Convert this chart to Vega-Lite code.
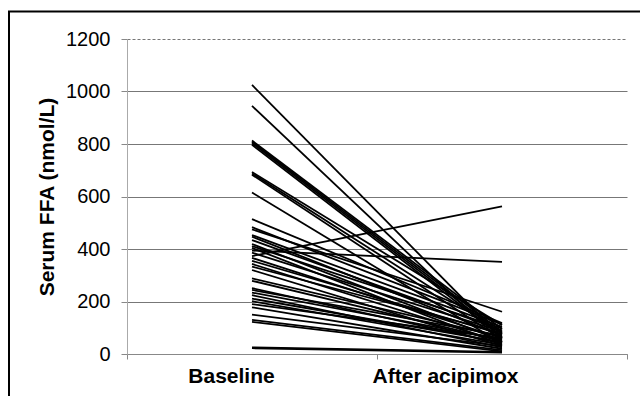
{
  "$schema": "https://vega.github.io/schema/vega-lite/v6.json",
  "width": 500,
  "height": 315,
  "autosize": {"type": "none"},
  "padding": {"left": 127, "top": 39, "right": 13, "bottom": 42},
  "background": "white",
  "config": {"view": {"stroke": null}, "font": "Liberation Sans"},
  "datasets": {
    "ffa": [
      {"subject": 1, "visit": 0, "ffa": 1025}, {"subject": 1, "visit": 1, "ffa": 60},
      {"subject": 2, "visit": 0, "ffa": 945}, {"subject": 2, "visit": 1, "ffa": 45},
      {"subject": 3, "visit": 0, "ffa": 813}, {"subject": 3, "visit": 1, "ffa": 95},
      {"subject": 4, "visit": 0, "ffa": 808}, {"subject": 4, "visit": 1, "ffa": 85},
      {"subject": 5, "visit": 0, "ffa": 803}, {"subject": 5, "visit": 1, "ffa": 75},
      {"subject": 6, "visit": 0, "ffa": 797}, {"subject": 6, "visit": 1, "ffa": 65},
      {"subject": 7, "visit": 0, "ffa": 693}, {"subject": 7, "visit": 1, "ffa": 110},
      {"subject": 8, "visit": 0, "ffa": 688}, {"subject": 8, "visit": 1, "ffa": 80},
      {"subject": 9, "visit": 0, "ffa": 683}, {"subject": 9, "visit": 1, "ffa": 55},
      {"subject": 10, "visit": 0, "ffa": 615}, {"subject": 10, "visit": 1, "ffa": 40},
      {"subject": 11, "visit": 0, "ffa": 514}, {"subject": 11, "visit": 1, "ffa": 118},
      {"subject": 12, "visit": 0, "ffa": 483}, {"subject": 12, "visit": 1, "ffa": 113},
      {"subject": 13, "visit": 0, "ffa": 475}, {"subject": 13, "visit": 1, "ffa": 161},
      {"subject": 14, "visit": 0, "ffa": 453}, {"subject": 14, "visit": 1, "ffa": 103},
      {"subject": 15, "visit": 0, "ffa": 447}, {"subject": 15, "visit": 1, "ffa": 70},
      {"subject": 16, "visit": 0, "ffa": 434}, {"subject": 16, "visit": 1, "ffa": 90},
      {"subject": 17, "visit": 0, "ffa": 419}, {"subject": 17, "visit": 1, "ffa": 50},
      {"subject": 18, "visit": 0, "ffa": 411}, {"subject": 18, "visit": 1, "ffa": 98},
      {"subject": 19, "visit": 0, "ffa": 404}, {"subject": 19, "visit": 1, "ffa": 35},
      {"subject": 20, "visit": 0, "ffa": 394}, {"subject": 20, "visit": 1, "ffa": 351},
      {"subject": 21, "visit": 0, "ffa": 386}, {"subject": 21, "visit": 1, "ffa": 85},
      {"subject": 22, "visit": 0, "ffa": 373}, {"subject": 22, "visit": 1, "ffa": 562},
      {"subject": 23, "visit": 0, "ffa": 366}, {"subject": 23, "visit": 1, "ffa": 60},
      {"subject": 24, "visit": 0, "ffa": 355}, {"subject": 24, "visit": 1, "ffa": 75},
      {"subject": 25, "visit": 0, "ffa": 343}, {"subject": 25, "visit": 1, "ffa": 45},
      {"subject": 26, "visit": 0, "ffa": 333}, {"subject": 26, "visit": 1, "ffa": 80},
      {"subject": 27, "visit": 0, "ffa": 320}, {"subject": 27, "visit": 1, "ffa": 30},
      {"subject": 28, "visit": 0, "ffa": 288}, {"subject": 28, "visit": 1, "ffa": 65},
      {"subject": 29, "visit": 0, "ffa": 279}, {"subject": 29, "visit": 1, "ffa": 50},
      {"subject": 30, "visit": 0, "ffa": 251}, {"subject": 30, "visit": 1, "ffa": 40},
      {"subject": 31, "visit": 0, "ffa": 244}, {"subject": 31, "visit": 1, "ffa": 70},
      {"subject": 32, "visit": 0, "ffa": 234}, {"subject": 32, "visit": 1, "ffa": 55},
      {"subject": 33, "visit": 0, "ffa": 224}, {"subject": 33, "visit": 1, "ffa": 25},
      {"subject": 34, "visit": 0, "ffa": 211}, {"subject": 34, "visit": 1, "ffa": 45},
      {"subject": 35, "visit": 0, "ffa": 201}, {"subject": 35, "visit": 1, "ffa": 35},
      {"subject": 36, "visit": 0, "ffa": 190}, {"subject": 36, "visit": 1, "ffa": 60},
      {"subject": 37, "visit": 0, "ffa": 178}, {"subject": 37, "visit": 1, "ffa": 20},
      {"subject": 38, "visit": 0, "ffa": 150}, {"subject": 38, "visit": 1, "ffa": 30},
      {"subject": 39, "visit": 0, "ffa": 130}, {"subject": 39, "visit": 1, "ffa": 15},
      {"subject": 40, "visit": 0, "ffa": 122}, {"subject": 40, "visit": 1, "ffa": 10},
      {"subject": 41, "visit": 0, "ffa": 25}, {"subject": 41, "visit": 1, "ffa": 8},
      {"subject": 42, "visit": 0, "ffa": 22}, {"subject": 42, "visit": 1, "ffa": 5}
    ]
  },
  "layer": [
    {
      "data": {"name": "ffa"},
      "mark": {"type": "line", "color": "black", "strokeWidth": 1.8},
      "encoding": {
        "x": {
          "field": "visit",
          "type": "quantitative",
          "scale": {"domain": [-0.5, 1.5], "nice": false, "zero": false},
          "axis": {
            "title": null,
            "values": [-0.5, -0.084, 0.5, 0.772, 1.5],
            "labelExpr": "datum.value == -0.084 ? 'Baseline' : (datum.value == 0.772 ? 'After acipimox' : '')",
            "labelFont": "Liberation Sans",
            "labelFontSize": 21,
            "labelFontWeight": "bold",
            "labelColor": "black",
            "labelPadding": 6,
            "labelFlush": false,
            "labelOverlap": false,
            "grid": false,
            "domainColor": "#888888",
            "tickColor": "#888888",
            "tickSize": 5,
            "tickOpacity": {"condition": {"test": "datum.value == -0.084 || datum.value == 0.772", "value": 0}, "value": 1}
          }
        },
        "y": {
          "field": "ffa",
          "type": "quantitative",
          "scale": {"domain": [0, 1200], "nice": false},
          "axis": {
            "title": "Serum FFA (nmol/L)",
            "titleFont": "Liberation Sans",
            "titleFontSize": 21,
            "titleFontWeight": "bold",
            "titleColor": "black",
            "titlePadding": 8,
            "values": [0, 200, 400, 600, 800, 1000, 1200],
            "format": "d",
            "labelFont": "Liberation Sans",
            "labelFontSize": 20,
            "labelColor": "black",
            "labelPadding": 11,
            "tickSize": 6,
            "tickColor": "#888888",
            "domainColor": "#aaaaaa",
            "grid": true,
            "gridColor": "#777777",
            "gridWidth": 1,
            "gridDash": {"condition": {"test": "datum.value == 1200", "value": [3, 2]}, "value": []}
          }
        },
        "detail": {"field": "subject", "type": "nominal"}
      }
    },
    {
      "data": {"values": [{}]},
      "mark": {"type": "rect", "filled": false, "stroke": "black", "strokeWidth": 2, "clip": false},
      "encoding": {
        "x": {"datum": -0.972, "type": "quantitative"},
        "x2": {"datum": 3},
        "y": {"datum": 1305, "type": "quantitative"},
        "y2": {"datum": -300}
      }
    }
  ]
}
